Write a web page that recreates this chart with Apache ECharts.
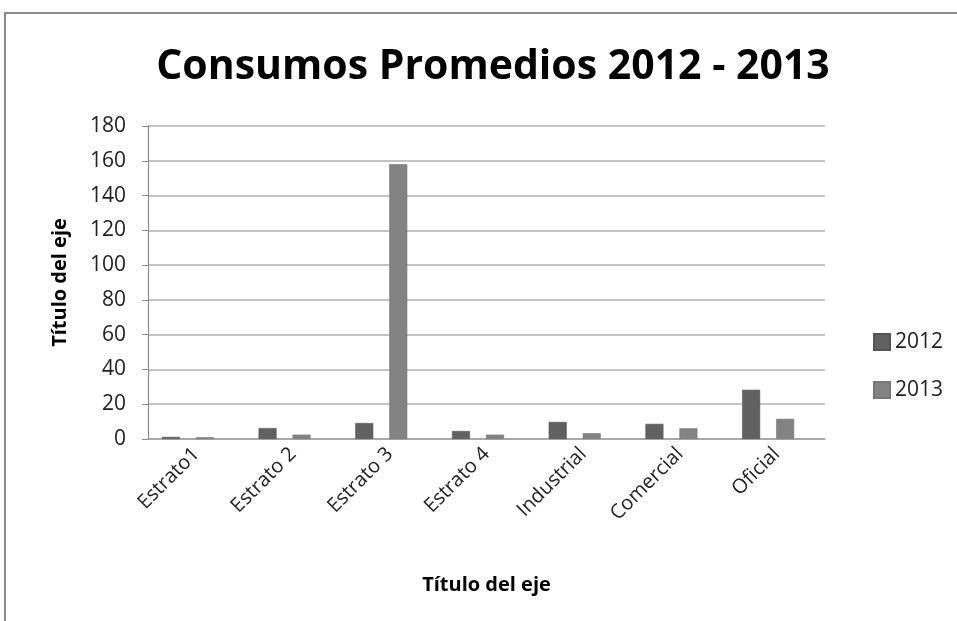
<!DOCTYPE html>
<html>
<head>
<meta charset="utf-8">
<script src="https://cdn.jsdelivr.net/npm/echarts@6/dist/echarts.min.js"></script>
<style>
html,body{margin:0;padding:0;background:#fff;}
#frame{position:absolute;left:4px;top:12px;width:960px;height:620px;border-left:2px solid #8a8a8a;border-top:2px solid #8a8a8a;box-sizing:border-box;}
#chart{position:absolute;left:0;top:0;width:957px;height:621px;}
</style>
</head>
<body>
<div id="frame"></div>
<div id="chart"></div>
<script>
const categories = ['Estrato1', 'Estrato 2', 'Estrato 3', 'Estrato 4', 'Industrial', 'Comercial', 'Oficial'];
const values2012 = [1.2, 6.3, 9.2, 4.6, 9.8, 8.7, 28.3];
const values2013 = [1.0, 2.5, 158, 2.5, 3.3, 6.2, 11.6];
const seriesNames = ['2012', '2013'];
const yTicks = { min: 0, max: 180, interval: 20 };

const FONT = '"Open Sans", "DejaVu Sans", sans-serif';
const GAP = '88.9%';
const chart = echarts.init(document.getElementById('chart'), null, { renderer: 'canvas' });
chart.setOption({
  backgroundColor: 'transparent',
  animation: false,
  title: {
    text: 'Consumos Promedios 2012 - 2013',
    left: 488, top: 42, textAlign: 'center',
    textStyle: { fontFamily: FONT, fontSize: 41, fontWeight: 'bold', color: '#000' }
  },
  legend: {
    orient: 'vertical', left: 868, top: 326,
    itemWidth: 16, itemHeight: 16, itemGap: 26,
    icon: 'rect',
    textStyle: { fontFamily: FONT, fontSize: 21, lineHeight: 22, color: '#222' },
    data: seriesNames
  },
  grid: { left: 148, right: 132, top: 126, bottom: 182, containLabel: false },
  xAxis: {
    type: 'category', data: categories,
    name: 'Título del eje', nameLocation: 'middle', nameGap: 136,
    nameTextStyle: { fontFamily: FONT, fontSize: 20, fontWeight: 'bold', color: '#000' },
    axisLine: { lineStyle: { color: '#a0a0a0', width: 1.5 } },
    axisTick: { show: false },
    axisLabel: { rotate: 45, margin: 12, fontFamily: FONT, fontSize: 20, color: '#222' }
  },
  yAxis: {
    type: 'value', min: yTicks.min, max: yTicks.max, interval: yTicks.interval,
    name: 'Título del eje', nameLocation: 'middle', nameGap: 78, nameRotate: 90,
    nameTextStyle: { fontFamily: FONT, fontSize: 20, fontWeight: 'bold', color: '#000' },
    axisLine: { show: true, lineStyle: { color: '#8a8a8a', width: 1.2 } },
    axisTick: { show: true, length: 6, lineStyle: { color: '#8a8a8a' } },
    axisLabel: { margin: 22, fontFamily: FONT, fontSize: 21, color: '#222' },
    splitLine: { lineStyle: { color: '#b0b0b0', width: 1.5 } }
  },
  series: [
    { name: seriesNames[0], type: 'bar', data: values2012, barWidth: 18, barGap: GAP,
      itemStyle: { color: '#616161', borderColor: '#555', borderWidth: 0.6 } },
    { name: seriesNames[1], type: 'bar', data: values2013, barWidth: 18, barGap: GAP,
      itemStyle: { color: '#838383', borderColor: '#777', borderWidth: 0.6 } },
    { name: 'spacer', type: 'bar', data: categories.map(() => 0), barWidth: 1, barGap: GAP,
      silent: true, tooltip: { show: false },
      itemStyle: { color: 'rgba(0,0,0,0)', borderWidth: 0 } }
  ]
});
</script>
</body>
</html>
